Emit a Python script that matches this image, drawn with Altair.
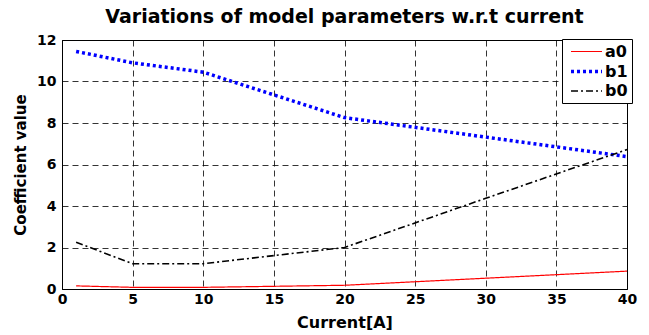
import altair as alt
import pandas as pd

current = [1, 5, 10, 20, 30, 40]
a0 = [0.15, 0.08, 0.08, 0.18, 0.52, 0.86]
b1 = [11.45, 10.9, 10.45, 8.26, 7.32, 6.38]
b0 = [2.25, 1.22, 1.22, 2.0, 4.37, 6.72]
series = ["a0", "b1", "b0"]

rows = []
for name, vals in zip(series, [a0, b1, b0]):
    for c, v in zip(current, vals):
        rows.append({"current": c, "value": v, "series": name})
df = pd.DataFrame(rows)

FONT = "DejaVu Sans"

leg = dict(title=None, orient="none", legendX=500, legendY=-1)

lines = alt.Chart(df).mark_line(clip=True).encode(
    x=alt.X("current:Q", scale=alt.Scale(domain=[0, 40], nice=False),
            axis=alt.Axis(title="Current[A]", values=list(range(0, 45, 5)),
                          format="d", labelFlush=False, labelPadding=3,
                          titlePadding=8, ticks=False, titleFontSize=16)),
    y=alt.Y("value:Q", scale=alt.Scale(domain=[0, 12], nice=False),
            axis=alt.Axis(title="Coefficient value", values=list(range(0, 14, 2)),
                          labelPadding=6, titlePadding=8, ticks=False,
                          titleFontSize=15)),
    color=alt.Color("series:N", sort=series,
                    scale=alt.Scale(domain=series, range=["#ff0000", "#0000ff", "#000000"]),
                    legend=alt.Legend(symbolType="M-2,0H2", symbolSize=240,
                                      symbolOffset=11,
                                      labelFont=FONT, labelFontSize=16, labelFontWeight="bold",
                                      labelColor="black", labelOffset=9,
                                      strokeColor="black", fillColor="white",
                                      padding=4, rowPadding=2, **leg)),
    strokeDash=alt.StrokeDash("series:N", sort=series,
                              scale=alt.Scale(domain=series, range=[[1, 0], [3, 3], [7, 3, 2, 3]]),
                              legend=alt.Legend(**leg)),
    strokeWidth=alt.StrokeWidth("series:N", sort=series,
                                scale=alt.Scale(type="ordinal", domain=series, range=[1.2, 3.5, 1.6]),
                                legend=alt.Legend(**leg)),
)

chart = lines.properties(
    width=565, height=249,
    title=alt.TitleParams("Variations of model parameters w.r.t current",
                          font=FONT, fontSize=19, fontWeight="bold", offset=6,
                          anchor="middle", color="black"),
    padding={"left": 62, "top": 40, "right": 22, "bottom": 46},
    autosize=alt.AutoSizeParams(type="none"),
).configure_view(
    stroke="black", strokeWidth=1
).configure_axis(
    labelFont=FONT, labelFontSize=14, labelFontWeight="bold", labelColor="black",
    titleFont=FONT, titleFontWeight="bold", titleColor="black",
    grid=True, gridColor="black", gridDash=[6, 4], gridWidth=0.8, gridOpacity=1,
    domainColor="black",
)

chart.save("out.html", embed_options={"renderer": "svg", "actions": False})
